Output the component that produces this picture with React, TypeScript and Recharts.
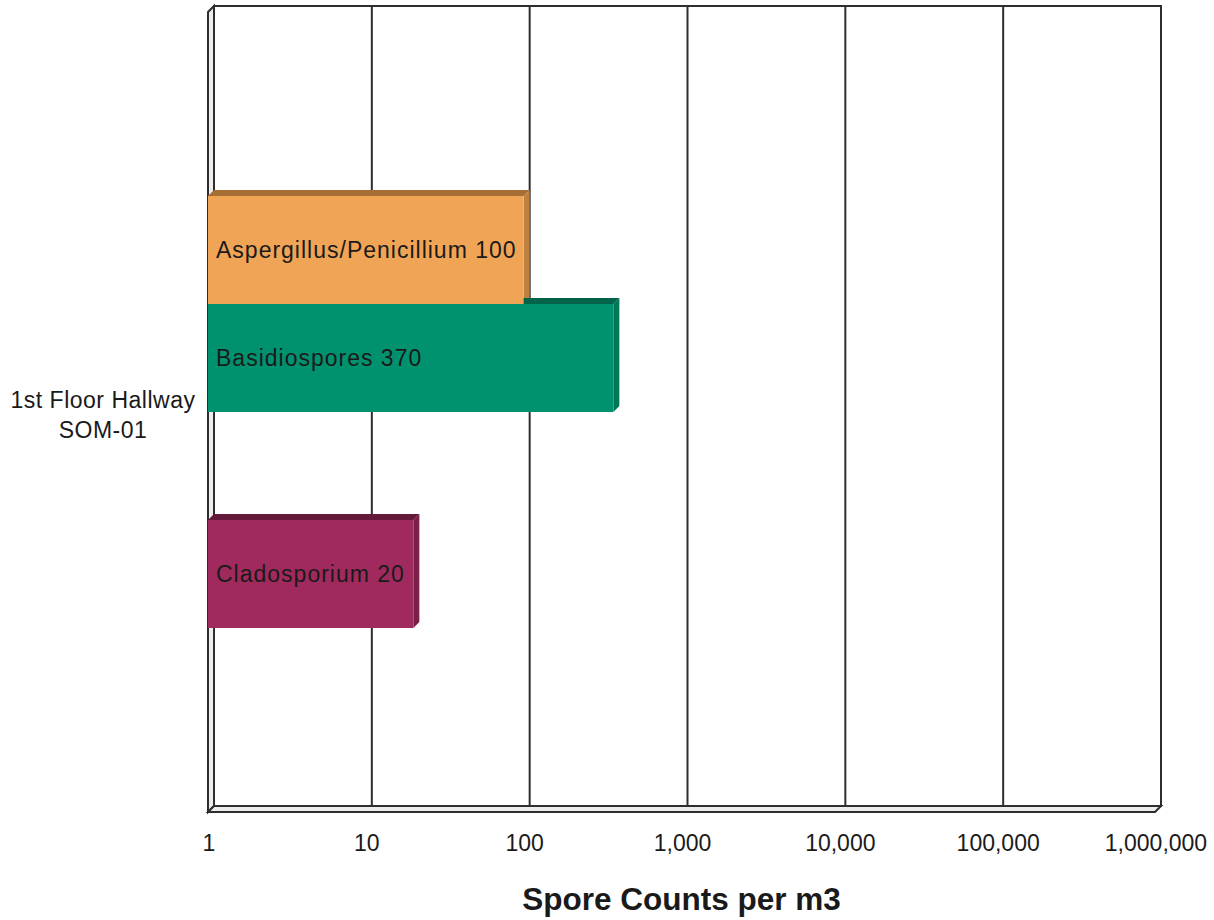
import { BarChart, Bar, XAxis, YAxis, CartesianGrid } from 'recharts';

const CATEGORIES = [['1st Floor Hallway', 'SOM-01']];
const ASPERGILLUS_PENICILLIUM = [100];
const BASIDIOSPORES = [370];
const EMPTY_SERIES: (number | null)[] = [null];
const CLADOSPORIUM = [20];
const X_TICKS = [1, 10, 100, 1000, 10000, 100000, 1000000];

const WIDTH = 1214;
const HEIGHT = 920;
const PLOT_LEFT = 208;
const PLOT_RIGHT = 1155;
const PLOT_TOP = 12;
const PLOT_BOTTOM = 812;
const DEPTH = 6;
const LINE = '#2e2e2e';
const TEXT = '#1a1a1a';
const FONT = '"Liberation Sans", Arial, sans-serif';

const SERIES = [
  { key: 'asp', name: 'Aspergillus/Penicillium', values: ASPERGILLUS_PENICILLIUM, front: '#F0A455', top: '#A66E34', side: '#C08040' },
  { key: 'basidio', name: 'Basidiospores', values: BASIDIOSPORES, front: '#00926E', top: '#00644B', side: '#007658' },
  { key: 'empty', name: '', values: EMPTY_SERIES, front: '#cccccc', top: '#999999', side: '#aaaaaa' },
  { key: 'clado', name: 'Cladosporium', values: CLADOSPORIUM, front: '#A02A5E', top: '#64193A', side: '#7D2048' },
];

const data = CATEGORIES.map((lines, i) => {
  const row: Record<string, string | number | null> = { location: lines.join(' ') };
  SERIES.forEach((s) => {
    row[s.key] = s.values[i];
  });
  return row;
});

const formatTick = (v: number) => v.toLocaleString('en-US');

// grid lines sit on the back wall, pushed back by the 3d depth
const GRID_CSS = `.recharts-cartesian-grid-vertical { transform: translateX(${DEPTH}px); }`;

function depthShape(top: string, side: string) {
  return (props: any) => {
    const { x, y, width, height } = props;
    if (!(width > 0) || !(height > 0)) return <g />;
    const d = DEPTH;
    return (
      <g>
        <polygon
          points={`${x},${y} ${x + d},${y - d} ${x + width + d},${y - d} ${x + width},${y}`}
          fill={top}
        />
        <polygon
          points={`${x + width},${y} ${x + width + d},${y - d} ${x + width + d},${y + height - d} ${x + width},${y + height}`}
          fill={side}
        />
      </g>
    );
  };
}

function barLabel(name: string) {
  return (props: any) => {
    const { x, y, height, value } = props;
    if (value == null) return <g />;
    return (
      <text
        x={x + 8}
        y={y + height / 2 + 8}
        fontSize={23}
        letterSpacing={1}
        fill={TEXT}
        fontFamily={FONT}
      >
        {`${name} ${value}`}
      </text>
    );
  };
}

function CategoryTick(props: any) {
  const { y, payload } = props;
  const lines =
    CATEGORIES.find((l) => l.join(' ') === payload.value) || [payload.value];
  return (
    <g>
      {lines.map((line: string, i: number) => (
        <text
          key={i}
          x={103}
          y={y - 4 + i * 30}
          textAnchor="middle"
          fontSize={23}
          letterSpacing={0.5}
          fill={TEXT}
          fontFamily={FONT}
        >
          {line}
        </text>
      ))}
    </g>
  );
}

function ValueTick(props: any) {
  const { x, y, payload } = props;
  return (
    <text
      x={x + 1}
      y={y + 39}
      textAnchor="middle"
      fontSize={23}
      fill={TEXT}
      fontFamily={FONT}
    >
      {formatTick(payload.value)}
    </text>
  );
}

function Frame() {
  const l = PLOT_LEFT;
  const r = PLOT_RIGHT;
  const t = PLOT_TOP;
  const b = PLOT_BOTTOM;
  const d = DEPTH;
  return (
    <svg
      width={WIDTH}
      height={HEIGHT}
      style={{ position: 'absolute', left: 0, top: 0 }}
    >
      <rect x={l + d} y={t - d} width={r - l} height={b - t} fill="#ffffff" stroke={LINE} strokeWidth={2} />
      <polygon
        points={`${l},${t} ${l + d},${t - d} ${l + d},${b - d} ${l},${b}`}
        fill="#ededed"
        stroke={LINE}
        strokeWidth={2}
      />
      <polygon
        points={`${l},${b} ${l + d},${b - d} ${r + d},${b - d} ${r},${b}`}
        fill="#ededed"
        stroke={LINE}
        strokeWidth={2}
      />
    </svg>
  );
}

export default function App() {
  return (
    <div
      style={{
        position: 'absolute',
        left: 0,
        top: 0,
        width: WIDTH,
        height: HEIGHT,
        background: '#ffffff',
        fontFamily: FONT,
      }}
    >
      <style>{GRID_CSS}</style>
      <Frame />
      <div style={{ position: 'absolute', left: 0, top: 0 }}>
        <BarChart
          width={WIDTH}
          height={HEIGHT}
          data={data}
          layout="vertical"
          margin={{ top: PLOT_TOP, right: WIDTH - PLOT_RIGHT, bottom: 0, left: 0 }}
          barCategoryGap={184}
          barGap={0}
        >
          <CartesianGrid
            horizontal={false}
            yAxisId="front"
            y={PLOT_TOP - DEPTH}
            height={PLOT_BOTTOM - PLOT_TOP}
            stroke={LINE}
            strokeWidth={2}
          />
          <XAxis
            type="number"
            scale="log"
            domain={[1, 1000000]}
            ticks={X_TICKS}
            allowDataOverflow
            height={HEIGHT - PLOT_BOTTOM}
            axisLine={false}
            tickLine={false}
            tickSize={0}
            tickMargin={0}
            tick={<ValueTick />}
            interval={0}
            label={{
              value: 'Spore Counts per m3',
              position: 'insideBottom',
              offset: 10,
              fontSize: 31.5,
              fontWeight: 'bold',
              fill: TEXT,
              fontFamily: FONT,
            }}
          />
          <YAxis yAxisId="back" type="category" dataKey="location" hide />
          <YAxis
            yAxisId="front"
            type="category"
            dataKey="location"
            width={PLOT_LEFT}
            axisLine={false}
            tickLine={false}
            tick={<CategoryTick />}
          />
          {SERIES.map((s) => (
            <Bar
              key={`back-${s.key}`}
              yAxisId="back"
              dataKey={s.key}
              name={s.name}
              fill={s.top}
              shape={depthShape(s.top, s.side)}
              isAnimationActive={false}
            />
          ))}
          {SERIES.map((s) => (
            <Bar
              key={`front-${s.key}`}
              yAxisId="front"
              dataKey={s.key}
              name={s.name}
              fill={s.front}
              isAnimationActive={false}
              label={barLabel(s.name)}
            />
          ))}
        </BarChart>
      </div>
    </div>
  );
}
